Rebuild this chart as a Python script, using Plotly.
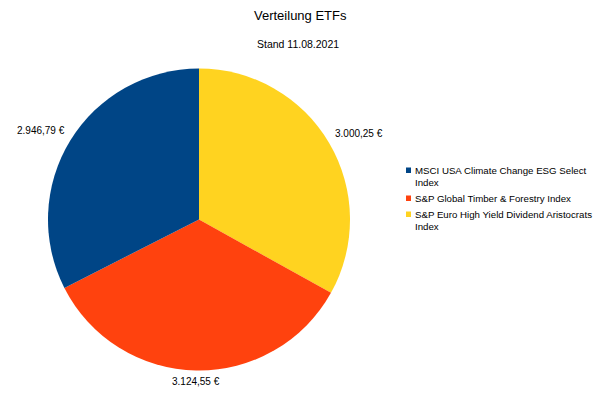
import math
import plotly.graph_objects as go

# ETF holdings (EUR) as of 11.08.2021
etf_names = [
    "MSCI USA Climate Change ESG Select Index",
    "S&P Global Timber & Forestry Index",
    "S&P Euro High Yield Dividend Aristocrats Index",
]
legend_lines = [
    ["MSCI USA Climate Change ESG Select", "Index"],
    ["S&P Global Timber & Forestry Index"],
    ["S&P Euro High Yield Dividend Aristocrats", "Index"],
]
values_eur = [2946.79, 3124.55, 3000.25]
colors = ["#004586", "#ff420e", "#ffd320"]

FONT = "Liberation Sans, Arial, sans-serif"
W, H = 600, 401

# Pie placement in pixels
PIE_LEFT, PIE_RIGHT, PIE_TOP, PIE_BOTTOM = 48, 350, 68, 371
CX = (PIE_LEFT + PIE_RIGHT) / 2
CY = (PIE_TOP + PIE_BOTTOM) / 2
R = min(PIE_RIGHT - PIE_LEFT, PIE_BOTTOM - PIE_TOP) / 2
LABEL_GAP = 4


def fmt_eur(v):
    s = f"{v:,.2f}"
    return s.replace(",", "X").replace(".", ",").replace("X", ".") + " €"


# Slices run clockwise from 12 o'clock in reverse legend order,
# so the first series sits in the upper-left sector.
order = list(range(len(etf_names)))[::-1]

fig = go.Figure(
    go.Pie(
        labels=[etf_names[i] for i in order],
        values=[values_eur[i] for i in order],
        text=[fmt_eur(values_eur[i]) for i in order],
        textinfo="none",
        sort=False,
        direction="clockwise",
        rotation=0,
        marker=dict(colors=[colors[i] for i in order], line=dict(width=0)),
        showlegend=False,
        hoverinfo="label+text",
        domain=dict(x=[PIE_LEFT / W, PIE_RIGHT / W],
                    y=[(H - PIE_BOTTOM) / H, (H - PIE_TOP) / H]),
    )
)

annotations = []

# Value labels just outside each slice's mid-angle
total = sum(values_eur)
cum = 0.0
for i in order:
    v = values_eur[i]
    theta = 2 * math.pi * (cum + v / 2) / total  # clockwise from 12 o'clock
    cum += v
    s, c = math.sin(theta), math.cos(theta)
    px = CX + (R + LABEL_GAP) * s
    py = CY - (R + LABEL_GAP) * c
    xanchor = "center" if abs(s) < 0.2 else ("left" if s > 0 else "right")
    yanchor = "bottom" if c > 0.3 else ("top" if c < -0.3 else "middle")
    annotations.append(dict(
        text=fmt_eur(v), xref="paper", yref="paper",
        x=px / W, y=(H - py) / H, xanchor=xanchor, yanchor=yanchor,
        showarrow=False, font=dict(family=FONT, size=10, color="#000000"),
    ))

# Legend drawn as small squares with wrapped labels
shapes = []
y = 170
for name_lines, col in zip(legend_lines, colors):
    shapes.append(dict(
        type="rect", xref="paper", yref="paper",
        x0=406 / W, x1=411 / W, y0=(H - y - 3) / H, y1=(H - y + 2.5) / H,
        fillcolor=col, line=dict(width=0),
    ))
    for k, line in enumerate(name_lines):
        annotations.append(dict(
            text=line, xref="paper", yref="paper",
            x=413 / W, y=(H - (y + k * 12)) / H,
            xanchor="left", yanchor="middle", showarrow=False,
            font=dict(family=FONT, size=9.7, color="#000000"),
        ))
    y += 12 * len(name_lines) + 4

annotations.append(dict(
    text="Verteilung ETFs", xref="paper", yref="paper",
    x=300 / W, y=(H - 16) / H, xanchor="center", yanchor="middle",
    showarrow=False, font=dict(family=FONT, size=13, color="#000000"),
))
annotations.append(dict(
    text="Stand 11.08.2021", xref="paper", yref="paper",
    x=298 / W, y=(H - 44) / H, xanchor="center", yanchor="middle",
    showarrow=False, font=dict(family=FONT, size=10.5, color="#000000"),
))

fig.update_layout(
    width=W, height=H,
    margin=dict(l=0, r=0, t=0, b=0),
    paper_bgcolor="#ffffff",
    plot_bgcolor="#ffffff",
    shapes=shapes,
    annotations=annotations,
)

fig.write_html("out.html")
